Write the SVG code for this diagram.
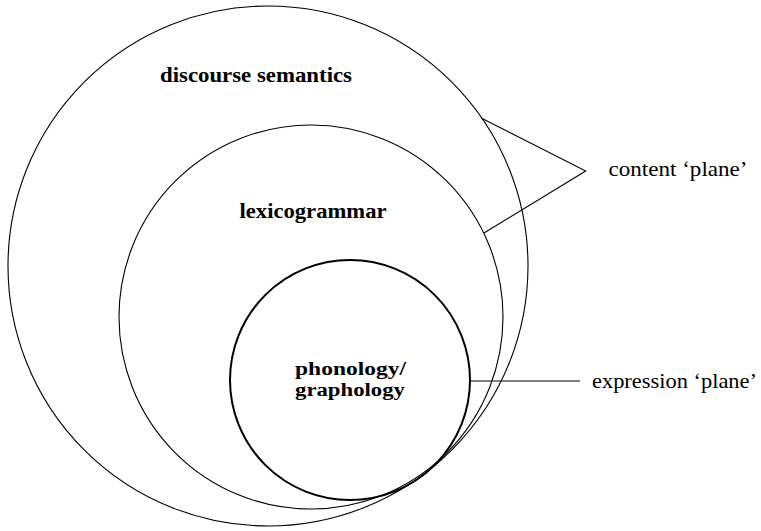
<svg xmlns="http://www.w3.org/2000/svg" width="761" height="531" viewBox="0 0 761 531">
  <style>
    .ring { fill: none; stroke: #000; stroke-width: 1.1; }
    .ring.core { stroke-width: 2; }
    .conn { fill: none; stroke: #000; stroke-width: 1.1; }
    .lbl { font-family: "Liberation Serif", "Times New Roman", serif; font-size: 21px; fill: #000; }
    .strata { font-weight: bold; }
    .tight { font-size: 18px; }
  </style>
  <rect width="761" height="531" fill="#fff"/>

  <g id="discourse-semantics">
    <circle class="ring" cx="268" cy="266" r="260"/>
    <text class="lbl strata" x="160" y="81.5" textLength="192" lengthAdjust="spacingAndGlyphs">discourse semantics</text>
  </g>

  <g id="lexicogrammar">
    <circle class="ring" cx="311" cy="317" r="192"/>
    <text class="lbl strata" x="239.5" y="217.5" textLength="147" lengthAdjust="spacingAndGlyphs">lexicogrammar</text>
  </g>

  <g id="phonology-graphology">
    <circle class="ring core" cx="350" cy="380" r="120"/>
    <text class="lbl strata tight" x="295" y="374.5" textLength="111" lengthAdjust="spacingAndGlyphs">phonology/</text>
    <text class="lbl strata tight" x="295" y="395.5" textLength="110" lengthAdjust="spacingAndGlyphs">graphology</text>
  </g>

  <g id="content-plane">
    <text class="lbl" x="608.5" y="176" textLength="139" lengthAdjust="spacingAndGlyphs">content ‘plane’</text>
  </g>

  <g id="expression-plane">
    <text class="lbl" x="592" y="388" textLength="165" lengthAdjust="spacingAndGlyphs">expression ‘plane’</text>
  </g>

  <g id="connectors">
    <polyline class="conn" points="481.7,118.3 585.7,171 484,233"/>
    <line class="conn" x1="470" y1="381" x2="580" y2="381"/>
  </g>
</svg>
